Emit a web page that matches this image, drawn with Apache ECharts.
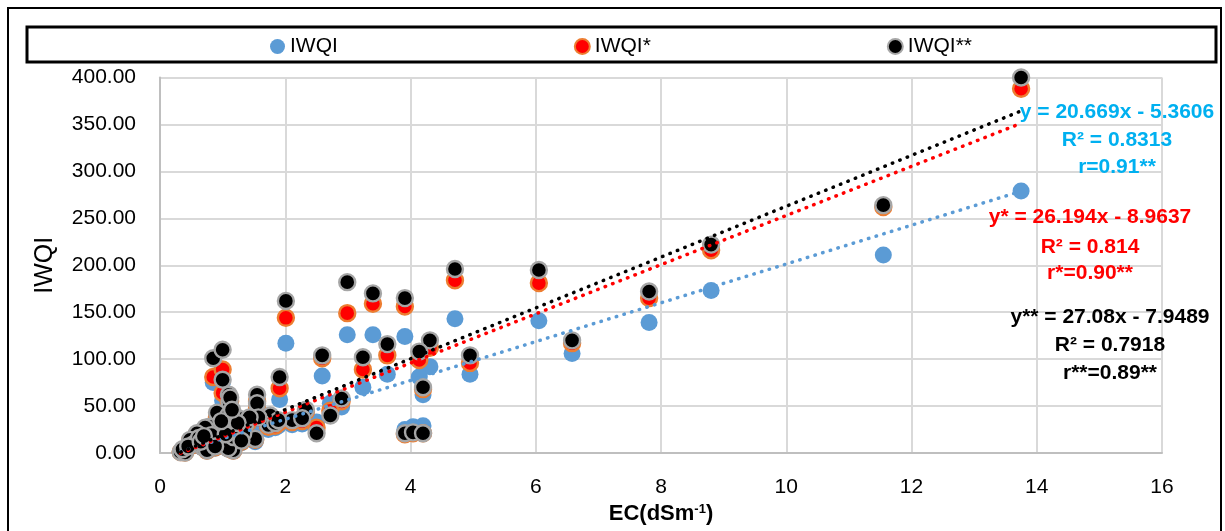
<!DOCTYPE html>
<html><head><meta charset="utf-8">
<script src="https://cdn.jsdelivr.net/npm/echarts@6/dist/echarts.min.js"></script>
<style>html,body{margin:0;padding:0;background:#fff}#c{width:1225px;height:531px}</style>
</head><body><div id="c"></div>
<script>
// EC (dS/m) for each sample
const ec = [13.75, 11.55, 8.80, 7.81, 6.58, 6.05, 4.95, 4.71, 4.31, 4.14, 4.20, 3.91, 3.91, 4.04, 4.20, 3.63, 3.40, 3.24, 2.99, 2.90,
            2.72, 2.59, 2.50, 2.33, 2.01, 1.91, 2.11, 1.76, 1.73, 1.55, 1.55, 1.52, 2.27, 1.84, 1.57, 1.36, 1.33, 1.25, 1.20, 1.17,
            1.43, 1.89, 0.85, 1.00, 1.00, 1.10, 1.11, 1.12, 0.91, 1.09, 0.79, 0.72, 0.59, 0.48, 0.33, 0.40, 0.69, 0.75, 0.91, 0.95,
            1.01, 1.09, 1.17, 1.24, 0.55, 0.62, 0.36, 0.45, 0.65, 0.82, 0.88, 1.05, 0.98, 1.15, 0.70, 1.30];
const iwqi = [279, 211, 173, 139, 106, 141, 84, 143, 92, 81, 62, 124, 25, 28, 29, 84, 126, 70, 126, 49,
              53, 82, 33, 40, 117, 57, 30, 33, 25, 48, 42, 12, 31, 27, 31, 24, 17, 30, 22, 2,
              31, 29, 75, 76, 56, 47, 43, 50, 35, 33, 24, 22, 18, 11, 1, 0.5, 5, 2, 10, 9,
              21, 4, 14, 27, 8, 13, 3, 5, 10, 16, 5, 16, 28, 38, 15, 11];
const iwqiStar = [388, 262, 216, 165, 117, 181, 96, 184, 112, 99, 68, 156, 20, 21, 21, 104, 159, 89, 149, 55,
                  45, 101, 27, 44, 144, 69, 33, 37, 28, 55, 48, 14, 34, 29, 35, 27, 19, 33, 25, 2.5,
                  35, 32, 81, 89, 64, 53, 48, 55, 38, 37, 26, 25, 20, 13, 1, 0.5, 6, 2.5, 11, 10,
                  23, 5, 16, 30, 9, 15, 3, 6, 11, 18, 6, 18, 31, 42, 17, 12];
const iwqiStar2 = [400, 264, 222, 172, 120, 195, 104, 196, 120, 108, 70, 165, 21, 22, 21, 116, 170, 102, 182, 58,
                   40, 104, 21, 46, 162, 81, 35, 40, 30, 62, 53, 15, 37, 32, 38, 30, 21, 37, 28, 3,
                   38, 35, 101, 110, 78, 62, 54, 59, 43, 40, 28, 27, 21, 14, 1, 0.5, 6, 3, 12, 11,
                   25, 5, 17, 32, 10, 16, 4, 7, 12, 19, 7, 20, 34, 46, 18, 13];
const seriesNames = ['IWQI', 'IWQI*', 'IWQI**'];
// printed trendline equations: [slope, intercept]
const trendCoef = [[20.669, -5.3606], [26.194, -8.9637], [27.08, -7.9489]];
const trendText = [
  ['y = 20.669x - 5.3606', 'R² = 0.8313', 'r=0.91**'],
  ['y* = 26.194x - 8.9637', 'R² = 0.814', 'r*=0.90**'],
  ['y** = 27.08x - 7.9489', 'R² = 0.7918', 'r**=0.89**']
];
const xAxisRange = [0, 16, 2];
const yAxisRange = [0, 400, 50];

const FONT = 'Liberation Sans';
const fills = ['#5b9bd5', '#ff0000', '#000000'];
const borders = ['#5b9bd5', '#ed7d31', '#a6a6a6'];
const textCols = ['#00b0f0', '#ff0000', '#000000'];
const vals = [iwqi, iwqiStar, iwqiStar2];

const xmin = Math.min(...ec), xmax = Math.max(...ec);
const scatter = vals.map((v, k) => ({
  name: seriesNames[k], type: 'scatter', z: 2 + k,
  symbol: 'circle', symbolSize: k === 0 ? 17 : 16,
  itemStyle: {color: fills[k], borderColor: borders[k], borderWidth: k === 0 ? 0 : 2.4, opacity: 1},
  data: ec.map((x, i) => [x, v[i]])
}));
const lines = trendCoef.map((c, k) => ({
  name: 'trend' + k, type: 'line', z: 10 + k, symbol: 'none', silent: true,
  lineStyle: {color: fills[k], width: 3.5, type: [0.5, 7.5], cap: 'round'},
  data: [[xmin, c[0] * xmin + c[1]], [xmax, c[0] * xmax + c[1]]]
}));

const annPos = [[1117, 112, 140, 167], [1090, 217, 247, 273], [1110, 317, 345, 373]];
const annotations = [];
trendText.forEach((t, k) => {
  t.forEach((s, j) => {
    annotations.push({type: 'text', z: 50, x: annPos[k][0], y: annPos[k][j + 1],
      style: {text: s, fill: textCols[k], font: 'bold 21px "' + FONT + '"', textAlign: 'center', textVerticalAlign: 'middle'}});
  });
});

const chart = echarts.init(document.getElementById('c'));
chart.setOption({
  backgroundColor: '#fff',
  animation: false,
  textStyle: {fontFamily: FONT},
  legend: {
    data: seriesNames.map(n => ({name: n, icon: 'circle'})),
    left: 265, top: 31, itemGap: 236, itemWidth: 15, itemHeight: 15,
    textStyle: {fontSize: 21, color: '#000', fontFamily: FONT}
  },
  grid: {left: 160, right: 63, top: 77.5, bottom: 78},
  xAxis: {
    type: 'value', min: xAxisRange[0], max: xAxisRange[1], interval: xAxisRange[2],
    name: '{a|EC(dSm}{s|-1}{a|)}', nameLocation: 'middle', nameGap: 46,
    nameTextStyle: {rich: {
      a: {fontSize: 22, fontWeight: 'bold', color: '#000', fontFamily: FONT},
      s: {fontSize: 13, fontWeight: 'bold', color: '#000', fontFamily: FONT, verticalAlign: 'top', padding: [0, 0, 10, 0]}
    }},
    axisLine: {show: true, lineStyle: {color: '#bfbfbf', width: 2}},
    axisTick: {show: false},
    axisLabel: {fontSize: 21, color: '#000', margin: 24},
    splitLine: {show: true, lineStyle: {color: '#d9d9d9', width: 2}}
  },
  yAxis: {
    type: 'value', min: yAxisRange[0], max: yAxisRange[1], interval: yAxisRange[2],
    name: 'IWQI', nameLocation: 'middle', nameGap: 102, nameRotate: 90,
    nameTextStyle: {fontSize: 25, color: '#000', fontFamily: FONT},
    axisLine: {show: true, lineStyle: {color: '#bfbfbf', width: 2}},
    axisTick: {show: false},
    axisLabel: {fontSize: 21, color: '#000', margin: 24, formatter: v => v.toFixed(2)},
    splitLine: {show: true, lineStyle: {color: '#d9d9d9', width: 2}}
  },
  graphic: [
    {type: 'rect', z: 0, shape: {x: 8, y: 8, width: 1213, height: 540}, style: {fill: 'none', stroke: '#000', lineWidth: 2}},
    {type: 'rect', z: 0, shape: {x: 27, y: 27, width: 1189, height: 35}, style: {fill: 'none', stroke: '#000', lineWidth: 3}}
  ].concat(annotations),
  series: scatter.concat(lines)
});
</script></body></html>
